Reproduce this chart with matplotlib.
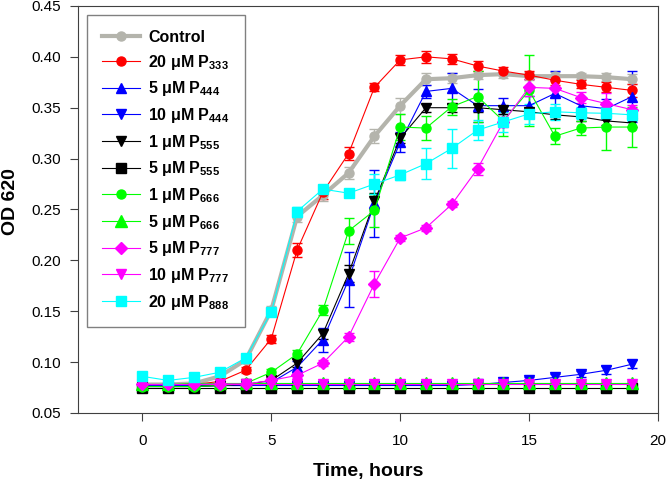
import numpy as np
import matplotlib
matplotlib.use("Agg")
import matplotlib.pyplot as plt

plt.rcParams['font.family'] = ['Liberation Sans', 'DejaVu Sans']
plt.rcParams['mathtext.fontset'] = 'custom'
plt.rcParams['mathtext.rm'] = 'Liberation Sans:bold'
plt.rcParams['mathtext.bf'] = 'Liberation Sans:bold'
plt.rcParams['mathtext.default'] = 'bf'

# hours
time = list(range(20))

labels = ["Control", "20 μM P$_{333}$", "5 μM P$_{444}$", "10 μM P$_{444}$",
          "1 μM P$_{555}$", "5 μM P$_{555}$", "1 μM P$_{666}$", "5 μM P$_{666}$",
          "5 μM P$_{777}$", "10 μM P$_{777}$", "20 μM P$_{888}$"]

control = [0.078, 0.078, 0.079, 0.086, 0.102, 0.151, 0.243, 0.264, 0.286, 0.322,
           0.352, 0.378, 0.379, 0.382, 0.383, 0.381, 0.381, 0.381, 0.380, 0.378]
p333_20 = [0.078, 0.077, 0.078, 0.081, 0.092, 0.123, 0.210, 0.267, 0.305, 0.370,
           0.397, 0.400, 0.398, 0.391, 0.386, 0.382, 0.377, 0.373, 0.370, 0.367]
p444_5 = [0.076, 0.076, 0.076, 0.077, 0.077, 0.080, 0.095, 0.122, 0.181, 0.256,
          0.316, 0.366, 0.369, 0.352, 0.352, 0.352, 0.364, 0.352, 0.349, 0.361]
p444_10 = [0.077, 0.077, 0.077, 0.077, 0.077, 0.077, 0.077, 0.077, 0.077, 0.077,
           0.077, 0.077, 0.077, 0.078, 0.080, 0.082, 0.085, 0.088, 0.092, 0.098]
p555_1 = [0.076, 0.076, 0.076, 0.077, 0.078, 0.082, 0.099, 0.128, 0.187, 0.258,
          0.320, 0.350, 0.350, 0.350, 0.348, 0.346, 0.343, 0.341, 0.337, 0.335]
p555_5 = [0.075, 0.075, 0.075, 0.075, 0.075, 0.075, 0.075, 0.075, 0.075, 0.075,
          0.075, 0.075, 0.075, 0.075, 0.075, 0.075, 0.075, 0.075, 0.075, 0.075]
p666_1 = [0.076, 0.076, 0.076, 0.077, 0.079, 0.090, 0.108, 0.151, 0.229, 0.249,
          0.331, 0.330, 0.351, 0.361, 0.337, 0.367, 0.322, 0.330, 0.331, 0.331]
p666_5 = [0.078, 0.078, 0.079, 0.079, 0.079, 0.079, 0.079, 0.079, 0.079, 0.079,
          0.079, 0.079, 0.079, 0.079, 0.079, 0.079, 0.079, 0.079, 0.079, 0.079]
p777_5 = [0.078, 0.078, 0.078, 0.0785, 0.0785, 0.082, 0.087, 0.099, 0.125, 0.177,
          0.222, 0.232, 0.255, 0.290, 0.336, 0.370, 0.369, 0.360, 0.354, 0.348]
p777_10 = [0.078, 0.078, 0.078, 0.078, 0.078, 0.078, 0.078, 0.078, 0.078, 0.078,
           0.078, 0.078, 0.078, 0.078, 0.078, 0.078, 0.078, 0.078, 0.078, 0.078]
p888_20 = [0.086, 0.082, 0.085, 0.090, 0.104, 0.149, 0.248, 0.270, 0.266, 0.275,
           0.284, 0.295, 0.310, 0.328, 0.336, 0.344, 0.346, 0.345, 0.3445, 0.343]

# standard errors
control_err = [0.002, 0.002, 0.002, 0.003, 0.003, 0.004, 0.005, 0.006, 0.006, 0.007,
               0.008, 0.006, 0.005, 0.004, 0.004, 0.004, 0.004, 0.003, 0.004, 0.005]
p333_20_err = [0.002, 0.002, 0.002, 0.002, 0.003, 0.004, 0.007, 0.007, 0.006, 0.004,
               0.005, 0.006, 0.005, 0.005, 0.004, 0.004, 0.005, 0.004, 0.005, 0.006]
p444_5_err = [0.002, 0.002, 0.002, 0.002, 0.002, 0.003, 0.006, 0.012, 0.027, 0.033,
              0.010, 0.006, 0.015, 0.016, 0.008, 0.010, 0.022, 0.008, 0.010, 0.025]
p444_10_err = [0.002, 0.002, 0.002, 0.002, 0.002, 0.002, 0.002, 0.002, 0.002, 0.002,
               0.002, 0.002, 0.002, 0.002, 0.002, 0.003, 0.003, 0.003, 0.004, 0.004]
p555_1_err = [0.002, 0.002, 0.002, 0.002, 0.002, 0.003, 0.004, 0.005, 0.008, 0.008,
              0.005, 0.004, 0.004, 0.004, 0.004, 0.004, 0.004, 0.004, 0.004, 0.004]
p555_5_err = [0.002] * 20
p666_1_err = [0.002, 0.002, 0.002, 0.002, 0.002, 0.003, 0.004, 0.005, 0.013, 0.016,
              0.013, 0.012, 0.008, 0.025, 0.015, 0.035, 0.008, 0.007, 0.023, 0.020]
p666_5_err = [0.002] * 20
p777_5_err = [0.002, 0.002, 0.002, 0.002, 0.002, 0.002, 0.003, 0.003, 0.004, 0.013,
              0.003, 0.003, 0.003, 0.006, 0.005, 0.008, 0.008, 0.005, 0.010, 0.005]
p777_10_err = [0.002] * 20
p888_20_err = [0.002, 0.002, 0.002, 0.002, 0.003, 0.004, 0.004, 0.004, 0.004, 0.010,
               0.005, 0.015, 0.019, 0.010, 0.010, 0.010, 0.008, 0.006, 0.006, 0.006]

series = [control, p333_20, p444_5, p444_10, p555_1, p555_5, p666_1, p666_5,
          p777_5, p777_10, p888_20]
errors = [control_err, p333_20_err, p444_5_err, p444_10_err, p555_1_err, p555_5_err,
          p666_1_err, p666_5_err, p777_5_err, p777_10_err, p888_20_err]
colors = ['#b4b4ac', '#ff0000', '#0000ff', '#0000ff', '#000000', '#000000',
          '#00ff00', '#00ff00', '#ff00ff', '#ff00ff', '#00ffff']
markers = ['o', 'o', '^', 'v', 'v', 's', 'o', '^', 'D', 'v', 's']
msizes = [6.5, 6.5, 7, 7, 7, 6.5, 6.5, 8.5, 6, 7, 6.5]
lwidths = [3, 0.8, 0.8, 0.8, 0.8, 0.8, 0.8, 0.8, 0.8, 0.8, 0.8]

fig = plt.figure(figsize=(6.66, 4.8), dpi=100)
ax = fig.add_axes([0.117, 0.1396, 0.871, 0.848])

handles = []
for y, e, c, m, ms, lw, lab in zip(series, errors, colors, markers, msizes, lwidths, labels):
    eb = ax.errorbar(time, y, yerr=e, color=c, marker=m, markersize=ms, linewidth=lw,
                     elinewidth=1, capsize=3.5, capthick=1, label=lab,
                     markeredgecolor=c)
    handles.append(eb[0])

ax.set_xlim(-2.5, 20)
ax.set_ylim(0.05, 0.45)
ax.set_xticks([0, 5, 10, 15, 20])
yt = np.arange(0.05, 0.451, 0.05)
ax.set_yticks(yt)
ax.set_yticklabels([f"{v:.2f}" for v in yt])
ax.tick_params(direction='out', length=6, labelsize=11, color='#404040')
ax.tick_params(axis='x', pad=9)
ax.tick_params(axis='y', pad=6)
for s in ax.spines.values():
    s.set_color('#404040')

ax.set_xlabel("Time, hours", fontsize=14, fontweight='bold', labelpad=11)
ax.set_ylabel("OD 620", fontsize=14, fontweight='bold')
ax.yaxis.set_label_coords(-0.102, 0.52)

leg = ax.legend(handles, labels, loc='upper left', bbox_to_anchor=(0.0155, 0.978),
                borderaxespad=0, handlelength=2.4, handletextpad=0.5,
                labelspacing=0.48, borderpad=0.95,
                fancybox=False, framealpha=1, edgecolor='#808080',
                prop={'weight': 'bold', 'size': 11.5})
leg.get_frame().set_linewidth(1)

plt.savefig("out.png", dpi=100)
